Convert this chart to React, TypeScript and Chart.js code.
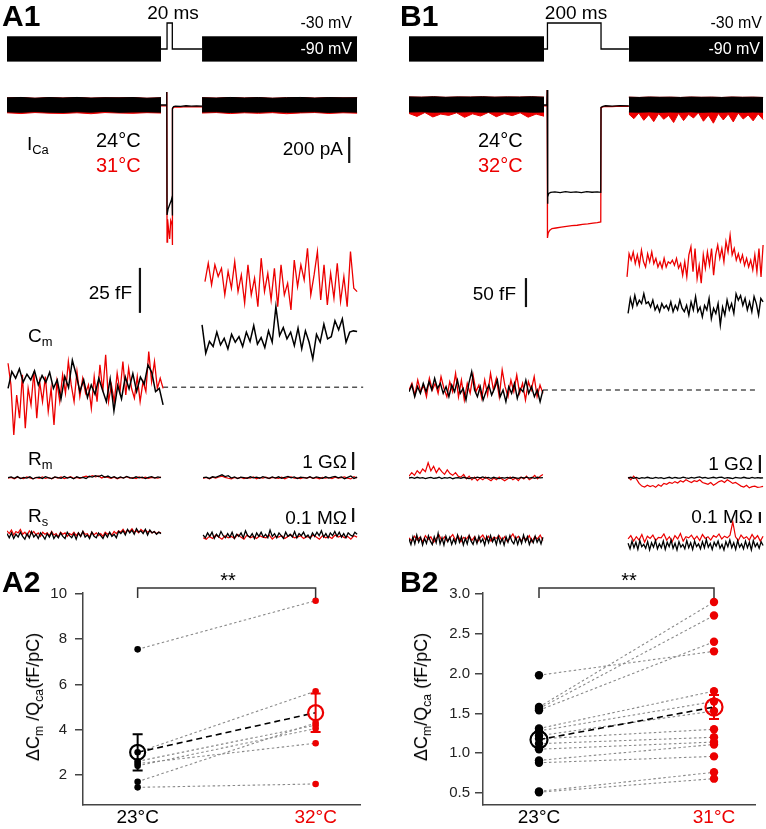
import React, { useEffect, useRef } from "react";
import { Chart, registerables } from "chart.js";

Chart.register(...registerables);

const RED = "rgb(236,0,0)";
const INK = "#111";
const FONT = "'Liberation Sans', Arial, Helvetica, sans-serif";
Chart.defaults.font.family = FONT;
Chart.defaults.color = "#000";

// ================= A1 / B1 : command protocol (ms, mV) =================
const holdMV = -90;
const stepMV = -30;
const sineHalfMV = 28; // apparent half-height of the sine-wave blocks
const a1SineStart = [0, 741];
const a1SineEnd = [585, 1330];
const a1CmdT = [585, 608, 608, 628, 628, 741];
const a1CmdV = [holdMV, holdMV, stepMV, stepMV, holdMV, holdMV];
const b1SineStart = [0, 829];
const b1SineEnd = [509, 1335];
const b1CmdT = [509, 522, 522, 724, 724, 829];
const b1CmdV = [holdMV, holdMV, stepMV, stepMV, holdMV, holdMV];

// ================= I_Ca (pA) =================
const a1IcaLeftHiK = [55, 58, 52, 57, 54, 58, 53, 56, 55, 57, 52, 56];
const a1IcaLeftLoK = [-53, -56, -51, -55, -57, -52, -55, -50, -56, -54, -53, -55];
const a1IcaLeftLoR = [-60, -66, -58, -63, -65, -60, -67, -58, -62, -64, -59, -62];
const a1IcaRightHiK = [56, 53, 58, 54, 57, 52, 56, 58, 53, 57, 55, 56];
const a1IcaRightLoK = [-54, -52, -57, -53, -55, -51, -56, -54, -52, -57, -53, -55];
const a1IcaRightLoR = [-62, -58, -66, -60, -64, -59, -67, -61, -58, -65, -60, -63];
const a1IcaMidTK = [585, 606, 607, 608, 612, 618, 624, 627, 628, 629, 633, 640, 660, 680, 700, 720, 741];
const a1IcaMidVK = [0, 0, 100, -846, -800, -765, -735, -708, -850, -25, -12, -8, -10, -6, -9, -7, -8];
const a1IcaMidTR = [585, 606, 607, 608, 610, 614, 618, 622, 627, 628, 629, 633, 640, 660, 680, 700, 720, 741];
const a1IcaMidVR = [-6, -6, 100, -1054, -880, -960, -1030, -890, -920, -1077, -30, -18, -14, -16, -12, -15, -13, -14];

const b1IcaLeftHiK = [62, 60, 63, 59, 62, 61, 63, 60, 62, 61, 63, 60];
const b1IcaLeftLoK = [-54, -52, -55, -53, -54, -52, -55, -53, -54, -52, -55, -54];
const b1IcaLeftLoR = [-65, -88, -58, -92, -70, -80, -60, -95, -68, -85, -57, -90, -66, -82, -60, -94, -70, -86];
const b1IcaRightHiK = [60, 58, 61, 59, 60, 58, 61, 59, 60, 58, 61, 59, 60, 58];
const b1IcaRightLoK = [-54, -55, -53, -56, -54, -55, -53, -56, -54, -55, -53, -56, -54, -55];
const b1IcaRightLoR = [-70, -105, -62, -118, -75, -128, -66, -110, -80, -135, -64, -120, -72, -100, -60, -125, -78, -140, -65, -115, -70, -130, -62, -108, -76, -122, -68, -112];
const b1IcaMidTK = [509, 520, 521, 522, 524, 527, 534, 550, 570, 590, 610, 630, 650, 670, 690, 710, 723, 724, 731, 741, 766, 796, 829];
const b1IcaMidVK = [0, 0, 115, -760, -708, -680, -672, -668, -674, -666, -672, -668, -674, -667, -671, -668, -672, -18, -10, -6, -8, -5, -6];
const b1IcaMidTR = [509, 520, 521, 522, 525, 530, 539, 554, 574, 594, 614, 634, 654, 674, 694, 710, 723, 724, 731, 741, 766, 796, 829];
const b1IcaMidVR = [-6, -6, 115, -1023, -984, -965, -950, -946, -940, -934, -928, -925, -918, -914, -908, -905, -900, -20, -14, -10, -12, -9, -11];

// ================= Cm (fF, relative to pre-pulse baseline) =================
const cmA1LeftK = [-0.6, 8.7, 5.0, 10.2, 2.8, 7.2, 4.1, 9.1, 1.3, 6.5, 2.8, 8.3, -0.6, 4.1, -6.5, 5.9, -0.2, 15.0, 7.2, -2.4, 4.1, -5.7, 1.3, -3.9, 5.0, -1.7, -8.0, 4.6, -13.1, 0.9, -6.5, 5.7, -0.9, 7.6, -2.4, 5.7, 1.7, 12.4, 8.3, -2.4, -0.6, -9.8];
const cmA1LeftR = [13.3, 1.3, -26.5, -4.3, -17.2, 6.9, -22.8, -0.6, -9.8, 8.7, -17.2, 3.1, -8.0, 5.9, -13.5, -0.6, -20.9, 3.1, -8.0, 6.9, -3.3, 14.3, 1.3, -8.0, 8.7, -5.2, 5.0, -3.3, 1.3, -11.7, 5.9, -8.0, 12.4, -2.4, 18.0, -8.0, 1.3, -8.0, 7.8, -2.4, 14.3, -4.3, 10.6, -0.6, -6.1, 5.9, -8.0, 3.1, -2.4, 19.8, 3.1, 14.3, -0.6, 5.0, -0.6];
const cmA1RightK = [34.6, 18.9, 25.4, 22.6, 30.6, 23.5, 27.2, 21.3, 29.4, 25.0, 28.1, 22.6, 30.6, 25.4, 34.3, 23.9, 27.6, 22.0, 31.3, 25.0, 44.8, 28.7, 33.1, 26.9, 30.6, 23.1, 32.8, 21.3, 31.3, 25.0, 15.7, 29.4, 25.0, 35.0, 26.9, 28.1, 36.9, 31.9, 38.0, 25.0, 30.6, 31.3, 30.9];
const cmA1RightR = [58.7, 68.9, 56.9, 68.0, 61.5, 66.1, 51.3, 64.3, 55.0, 69.8, 53.1, 62.4, 46.7, 68.0, 51.3, 60.6, 44.8, 71.7, 53.1, 63.3, 48.5, 66.1, 44.8, 68.0, 51.3, 57.8, 43.0, 70.7, 55.9, 68.0, 59.6, 77.2, 51.3, 62.4, 75.4, 48.5, 68.0, 45.7, 63.3, 49.4, 68.9, 47.6, 61.5, 44.8, 75.4, 55.0, 53.1];

const cmB1LeftK = [-2.9, 8.6, -11.6, 5.7, -5.8, 11.5, -2.9, 14.3, 0, 20.1, 2.8, 11.5, -5.8, 5.7, -11.6, 8.6, -2.9, 17.2, -5.8, 2.8, -17.3, 11.5, 31.6, 0, -11.6, 5.7, -17.3, -2.9, 8.6, -8.7, 2.8, 17.2, -11.6, 0, -20.2, 5.7, -5.8, 11.5, -14.4, 2.8, -2.9, 17.2, -5.8, 5.7, -11.6, 0, -20.2, 0];
const cmB1LeftR = [0, 11.5, -8.7, 17.2, -2.9, 8.6, -11.6, 20.1, 0, 11.5, -5.8, 23, 2.8, -11.6, 14.3, -2.9, 28.7, -11.6, 17.2, -17.3, 11.5, -5.8, 25.8, -2.9, 8.6, -14.4, 17.2, -8.7, 28.7, 0, 20.1, -11.6, 34.5, 5.7, -11.6, 17.2, -2.9, 25.8, -5.8, 11.5, -17.3, 14.3, 0, 23, -11.6, 8.6, -5.8];
const cmB1RightR = [195, 235, 224, 238, 218, 233, 215, 241, 221, 212, 235, 221, 238, 218, 227, 212, 221, 210, 227, 212, 221, 218, 224, 215, 227, 210, 218, 198, 221, 195, 233, 247, 204, 244, 192, 215, 184, 233, 210, 238, 215, 244, 198, 233, 250, 227, 244, 221, 256, 238, 267, 233, 244, 224, 235, 221, 233, 215, 227, 212, 224, 207, 233, 204, 244, 195, 250];
const cmB1RightK = [132, 158, 143, 163, 146, 155, 149, 166, 149, 152, 143, 155, 138, 146, 135, 149, 141, 146, 138, 152, 135, 146, 138, 155, 141, 135, 146, 129, 152, 138, 161, 135, 143, 126, 146, 138, 158, 123, 141, 132, 149, 112, 143, 129, 155, 138, 149, 132, 166, 155, 163, 146, 158, 138, 152, 135, 161, 149, 129, 158, 152];

// ================= Rm (MΩ, relative) =================
const rmA1LeftK = [0, 40, -30, 60, -50, 20, -20, 50, -60, 10, 30, -40, 60, -10, -50, 40, 0, -30, 70, -20, 30, -60, 50, -10, 20, -40, 80, 30, 110, 60, 140, 20, 90, -10, 60, -30, 40, -20, 70, 0, -40, 50, -10, 30, -50, 20, 60, -20, 40, 10];
const rmA1LeftR = [-30, 20, -60, 30, -20, -50, 40, -10, -70, 20, -30, 50, -40, 10, -60, 30, -20, 40, -50, 0, 60, -30, 20, -40, 30, 90, 40, 120, 50, 100, -20, 60, 10, -40, 30, -60, 20, -10, 50, -30, 10, -50, 40, -20, 30, -40, 20, 0, -30, 30];
const rmA1RightK = [0, 30, -40, 50, 20, 90, 160, 60, 110, -20, 40, -50, 30, 10, -40, 50, -10, 30, -30, 60, 0, -40, 40, -20, 50, -30, 20, 70, -10, 40, -50, 30, 0, -20, 60, -30, 40, 10, -40, 50, -20, 30, 70, -10, 40, -60, 20, 100, -40, 30];
const rmA1RightR = [-40, 10, -60, 30, -20, 40, 80, 20, -30, -70, 10, -40, 20, -50, 0, -30, 40, -60, 10, -20, 30, -50, 20, -10, -40, 30, -60, 10, 40, -30, -10, -50, 20, -20, 30, -40, 0, -60, 20, -30, 10, -50, 30, -20, 0, 40, -30, -70, 60, -20];
const rmB1LeftK = [0, 30, -20, 40, -10, 20, -30, 10, 30, -20, 0, 40, -30, 20, -10, 30, -40, 10, 20, -20, 40, 0, -30, 20, -10, 50, 10, 60, -10, 30, -20, 40, 0, -30, 20, -10, 30, -20, 40, 10, -20, 30, 0, 50, -10, 30, -20, 40, 10, 20];
const rmB1LeftR = [100, 300, 150, 400, 250, 500, 350, 850, 400, 650, 300, 550, 350, 200, 450, 250, 150, 300, 100, 50, 200, -50, 100, -100, 50, -150, 0, -100, 50, -50, -150, 0, -100, 50, -50, -150, -50, 50, -100, 0, -150, 50, -50, 100, -100, 0, 150, -50, 100, 200];
const rmB1RightK = [0, 40, -20, 30, -30, 20, -10, 40, 0, -20, 30, -10, 20, -30, 10, 40, -20, 30, 0, -10, 50, 10, -20, 30, -10, 40, 60, 0, 30, -20, 10, 40, -10, 30, 50, -20, 20, 0, -30, 30, 10, -10, 40, 0, -20, 30, -10, 20, 0, 10];
const rmB1RightR = [50, -100, 100, -50, -300, -450, -500, -400, -480, -420, -520, -380, -460, -300, -350, -250, -300, -200, -280, -150, -220, -100, -180, -250, -150, -200, -100, -250, -300, -350, -250, -400, -300, -200, -150, -250, -100, -200, -300, -250, -350, -450, -500, -400, -550, -480, -450, -520, -500, -470];

// ================= Rs (kΩ, relative) =================
const rsA1LeftK = [10, -20, 15, -25, 5, -15, 20, -10, -30, 10, -20, 25, -15, 5, -25, 15, -5, -30, 10, -15, 20, -25, 0, -20, 15, -10, -25, 20, -5, -20, 10, -30, 15, -10, 25, -15, 0, -25, 20, -10, -20, 15, -5, -25, 10, -15, 20, -10, 5, -20, 25, 10, 30, 0, 40, 15, 35, 5, 45, 20, 30, 10, 40, 0, 35, 15, 25, 5, 20, 10];
const rsA1LeftR = [30, 10, 35, 0, 25, 15, 40, 5, 20, -5, 30, 10, 25, 0, 15, -10, 20, 5, 15, -5, 25, 0, 10, -15, 20, 5, 15, -10, 10, 0, 20, -5, 15, -10, 25, 5, 10, -15, 20, 0, 15, -5, 10, -10, 20, 5, 15, 0, 25, 10, 30, 20, 40, 15, 35, 25, 45, 20, 30, 15, 40, 25, 35, 20, 30, 15, 25, 10, 20, 15];
const rsA1RightK = [0, -20, 15, -10, 20, -25, 5, -15, 25, -5, -20, 10, -15, 20, -25, 5, -10, 15, -20, 30, -5, -15, 10, -25, 15, -10, 20, -15, 5, -20, 35, -10, 10, -20, 15, -5, -25, 20, -10, 5, -15, 25, -20, 10, -5, 20, -15, 0, -25, 15, -10, 20, -5, 30, -15, 10, -20, 15, -5, 25, -10, 20, -15, 10, -20, 15, 0, -10, 20, 5];
const rsA1RightR = [-20, -30, -10, -25, 0, -15, -30, -5, -20, -10, -25, 5, -15, -30, 0, -20, -10, -25, -5, -15, -20, 0, -30, -10, -15, -5, -25, -10, 0, -20, -15, -5, -25, -10, -20, 0, -15, -30, -5, -20, -10, -25, 0, -15, -5, -20, -10, -30, -5, -15];
const rsB1LeftK = [10, -40, 30, -35, 45, -20, 25, -45, 15, -30, 40, -10, -40, 30, -25, 60, -35, 20, -45, 35, -15, 25, -40, 10, -30, 45, -20, 30, -45, 15, -35, 40, -10, -40, 25, -30, 35, -20, 10, -45, 30, -25, 40, -15, 20, -40, 35, -30, 15, -45, 30, -20, 40, -10, -35, 25, -40, 20, -30, 45, -15, 30, -40, 10, -25, 35, -20, 15, -35, 25];
const rsB1LeftR = [20, -10, 35, 0, 25, -15, 40, 5, 30, -20, 15, 45, -5, 30, -10, 20, 50, 0, 35, -15, 25, 10, 40, -5, 30, -20, 20, 45, 0, 35, -10, 25, 15, 40, -5, 30, -15, 20, 55, 5, 35, -10, 25, 0, 40, -15, 30, 10, 45, -5];
const rsB1RightK = [-30, -80, -10, -70, -20, -85, -5, -60, -40, -75, -15, -90, -25, -65, -5, -80, -35, -70, -10, -85, -20, -60, 0, -75, -30, -90, -15, -65, -40, -80, -5, -70, -25, -85, -10, -60, -35, -80, -15, -70, 5, -65, -30, -85, -20, -55, -10, -75, -40, -90, -15, -60, 0, -70, -25, -85, -5, -65, -35, -80, -10, -70, -20, -90, -5, -60, -30, -75, -15, -50];
const rsB1RightR = [10, 40, -10, 30, 0, 50, -20, 35, 15, 45, -5, 25, 20, 55, 0, 30, -15, 40, 10, 60, -10, 30, 20, 45, 5, 35, -5, 50, 15, 30, 0, 40, 25, 55, 10, 35, 20, 45, 165, 30, -5, 45, 15, 30, 0, 50, 10, 40, -10, 35];

// scale bars (physical size)
const barIcaPA = 200;
const barCmA1fF = 25;
const barCmB1fF = 50;
const barRmMOhm = 1000;
const barRsKOhm = 100;

// ================= A2 / B2 : ΔCm/QCa (fF/pC) =================
const a2Cats = ["23°C", "32°C"];
const a2Cold = [7.55, 1.45, 1.7, 2.4, 2.5, 2.6, 3.0];
const a2Warm = [9.7, 1.6, 4.3, 4.05, 3.4, 4.2, 5.7];
const a2Mean = [3.0, 4.75];
const a2Sem = [0.8, 0.85];
const a2Ticks = [2, 4, 6, 8, 10];

const b2Cats = ["23°C", "31°C"];
const b2Cold = [1.98, 1.58, 1.56, 1.54, 1.31, 1.28, 1.22, 1.18, 1.12, 1.05, 0.91, 0.88, 0.52, 0.51];
const b2Warm = [2.28, 2.9, 2.73, 2.4, 1.78, 1.65, 1.53, 1.3, 1.2, 1.14, 1.11, 0.96, 0.76, 0.68];
const b2Mean = [1.17, 1.58];
const b2Sem = [0.09, 0.15];
const b2Ticks = [0.5, 1.0, 1.5, 2.0, 2.5, 3.0];

// ================= helpers =================
const series = (vals: number[], t0: number, t1: number) =>
  vals.map((v, i) => ({ x: t0 + ((t1 - t0) * i) / Math.max(1, vals.length - 1), y: v }));
const zip = (ts: number[], vs: number[]) => ts.map((t, i) => ({ x: t, y: vs[i] }));
const ln = (data: any[], color: string, width = 1.2, extra: any = {}) => ({
  data,
  borderColor: color,
  backgroundColor: color,
  borderWidth: width,
  pointRadius: 0,
  fill: false,
  tension: 0,
  ...extra,
});
const band = (hi: number[], lo: number[], t0: number, t1: number, color: string) => [
  ln(series(hi, t0, t1), color, 1, { fill: "+1" }),
  ln(series(lo, t0, t1), color, 1),
];
const bar = (t: number, y0: number, len: number) => ln([{ x: t, y: y0 }, { x: t, y: y0 + len }], INK, 2.2);

function TraceChart(props: any) {
  const ref = useRef<HTMLCanvasElement>(null);
  const { left, top, width, height, xMax, yMin, yMax, build } = props;
  useEffect(() => {
    const chart = new Chart(ref.current as HTMLCanvasElement, {
      type: "line",
      data: { datasets: build() },
      options: {
        animation: false,
        responsive: false,
        devicePixelRatio: 1,
        events: [],
        layout: { padding: 0 },
        plugins: { legend: { display: false }, tooltip: { enabled: false } },
        scales: {
          x: { type: "linear", display: false, min: 0, max: xMax },
          y: { type: "linear", display: false, min: yMin, max: yMax },
        },
      } as any,
    });
    return () => chart.destroy();
  }, []);
  return (
    <canvas
      ref={ref}
      width={width}
      height={height}
      style={{ position: "absolute", left, top, width, height }}
    />
  );
}

function PairChart(props: any) {
  const ref = useRef<HTMLCanvasElement>(null);
  const { left, top, width, height } = props;
  useEffect(() => {
    const { cold, warm, mean, sem, cats, ticks, digits, xMin, xMax, yMin, yMax, axisW, tickPad, padTop, padRight, dotR, meanR } = props;
    const pairs = cold.map((a: number, i: number) => ({
      data: [{ x: 0, y: a }, { x: 1, y: warm[i] }],
      showLine: true,
      borderColor: "#8a8a8a",
      borderWidth: 1.1,
      borderDash: [2.5, 2.5],
      pointRadius: 0,
      order: 5,
    }));
    const datasets: any[] = [
      ...pairs,
      { data: cold.map((v: number) => ({ x: 0, y: v })), pointRadius: dotR, pointBackgroundColor: "#000", pointBorderWidth: 0, showLine: false, order: 3 },
      { data: warm.map((v: number) => ({ x: 1, y: v })), pointRadius: dotR, pointBackgroundColor: RED, pointBorderWidth: 0, showLine: false, order: 3 },
      { data: [{ x: 0, y: mean[0] }, { x: 1, y: mean[1] }], showLine: true, borderColor: "#000", borderWidth: 1.6, borderDash: [6, 4], pointRadius: 0, order: 2 },
      { data: [{ x: 0, y: mean[0] }, { x: 1, y: mean[1] }], showLine: false, pointRadius: meanR, pointBorderWidth: 2.2, pointBorderColor: ["#000", RED], pointBackgroundColor: "rgba(0,0,0,0)", order: 1 },
    ];
    const errPlugin = {
      id: "errbars",
      afterDatasetsDraw(chart: any) {
        const { ctx, chartArea } = chart;
        const x = chart.scales.x;
        const y = chart.scales.y;
        ctx.save();
        [0, 1].forEach((i) => {
          const px = x.getPixelForValue(i);
          const t = y.getPixelForValue(mean[i] + sem[i]);
          const b = y.getPixelForValue(mean[i] - sem[i]);
          ctx.strokeStyle = i ? RED : "#000";
          ctx.lineWidth = 2;
          ctx.beginPath();
          ctx.moveTo(px, t);
          ctx.lineTo(px, b);
          ctx.moveTo(px - 5, t);
          ctx.lineTo(px + 5, t);
          ctx.moveTo(px - 5, b);
          ctx.lineTo(px + 5, b);
          ctx.stroke();
        });
        const x0 = x.getPixelForValue(0);
        const x1 = x.getPixelForValue(1);
        const yb = chartArea.top - 5;
        ctx.strokeStyle = "#333";
        ctx.lineWidth = 1.5;
        ctx.beginPath();
        ctx.moveTo(x0, yb + 10);
        ctx.lineTo(x0, yb);
        ctx.lineTo(x1, yb);
        ctx.lineTo(x1, yb + 10);
        ctx.stroke();
        ctx.restore();
      },
    };
    const chart = new Chart(ref.current as HTMLCanvasElement, {
      type: "scatter",
      data: { datasets },
      options: {
        animation: false,
        responsive: false,
        devicePixelRatio: 1,
        events: [],
        layout: { padding: { top: padTop, right: padRight, left: 0, bottom: 0 } },
        plugins: { legend: { display: false }, tooltip: { enabled: false } },
        scales: {
          x: {
            type: "linear",
            min: xMin,
            max: xMax,
            afterBuildTicks: (s: any) => {
              s.ticks = [{ value: 0 }, { value: 1 }];
            },
            afterFit: (s: any) => {
              s.height = 24;
            },
            grid: { display: false, drawTicks: false, tickLength: 0 },
            border: { display: true, color: "#444", width: 1.5 },
            ticks: {
              autoSkip: false,
              maxRotation: 0,
              padding: 1,
              font: { size: 19, family: FONT },
              color: (c: any) => (c.index === 1 ? RED : "#000"),
              callback: (_v: any, i: number) => cats[i],
            },
          },
          y: {
            type: "linear",
            min: yMin,
            max: yMax,
            afterBuildTicks: (s: any) => {
              s.ticks = ticks.map((v: number) => ({ value: v }));
            },
            afterFit: (s: any) => {
              s.width = axisW;
            },
            grid: { display: true, drawOnChartArea: false, drawTicks: true, tickLength: 8, color: "#444", lineWidth: 1.5 },
            border: { display: true, color: "#444", width: 1.5 },
            ticks: {
              padding: tickPad,
              font: { size: 15, family: FONT },
              color: "#222",
              callback: (v: any) => Number(v).toFixed(digits),
            },
          },
        },
      } as any,
      plugins: [errPlugin],
    });
    return () => chart.destroy();
  }, []);
  return (
    <canvas
      ref={ref}
      width={width}
      height={height}
      style={{ position: "absolute", left, top, width, height }}
    />
  );
}

function Txt(props: any) {
  const { x, y, align = "left", size = 19, color = "#000", bold = false, children } = props;
  const style: any = {
    position: "absolute",
    top: y,
    fontSize: size,
    lineHeight: 1,
    color,
    fontWeight: bold ? 700 : 400,
    whiteSpace: "nowrap",
    fontFamily: FONT,
  };
  if (align === "left") {
    style.left = x;
    style.transform = "translateY(-50%)";
  } else if (align === "right") {
    style.right = 766 - x;
    style.transform = "translateY(-50%)";
  } else {
    style.left = x;
    style.transform = "translate(-50%,-50%)";
  }
  return <div style={style}>{children}</div>;
}

const Sub = ({ children }: any) => (
  <span style={{ fontSize: "0.68em", position: "relative", top: "0.32em" }}>{children}</span>
);

function YTitle({ x, y, children }: any) {
  return (
    <div
      style={{
        position: "absolute",
        left: x,
        top: y,
        transform: "translate(-50%,-50%) rotate(-90deg)",
        fontSize: 18,
        lineHeight: 1,
        whiteSpace: "nowrap",
        fontFamily: FONT,
        color: "#000",
      }}
    >
      {children}
    </div>
  );
}

const sineHi = [holdMV + sineHalfMV, holdMV + sineHalfMV];
const sineLo = [holdMV - sineHalfMV, holdMV - sineHalfMV];

export default function App() {
  return (
    <div
      style={{
        position: "absolute",
        left: 0,
        top: 0,
        width: 766,
        height: 829,
        background: "#fff",
        overflow: "hidden",
        fontFamily: FONT,
      }}
    >
      {/* ---------- A1 ---------- */}
      <TraceChart
        left={7} top={15} width={358} height={55} xMax={1360} yMin={-138.5} yMax={-11.5}
        build={() => [
          ...band(sineHi, sineLo, a1SineStart[0], a1SineEnd[0], "#000"),
          ...band(sineHi, sineLo, a1SineStart[1], a1SineEnd[1], "#000"),
          ln(zip(a1CmdT, a1CmdV), "#000", 1.3),
        ]}
      />
      <TraceChart
        left={7} top={85} width={358} height={170} xMax={1360} yMin={-1153.8} yMax={153.8}
        build={() => [
          ...band(a1IcaLeftHiK, a1IcaLeftLoK, 0, 585, "#000"),
          ...band(a1IcaRightHiK, a1IcaRightLoK, 741, 1330, "#000"),
          ln(zip(a1IcaMidTK, a1IcaMidVK), "#000", 1.3),
          ...band(a1IcaLeftHiK, a1IcaLeftLoR, 0, 585, RED),
          ...band(a1IcaRightHiK, a1IcaRightLoR, 741, 1330, RED),
          ln(zip(a1IcaMidTR, a1IcaMidVR), RED, 1.3),
          bar(1300, -446, barIcaPA),
        ]}
      />
      <TraceChart
        left={7} top={240} width={358} height={205} xMax={1360} yMin={-32.1} yMax={81.8}
        build={() => [
          ln(series(cmA1LeftK, 4, 593), "#000", 1.5),
          ln(series(cmA1RightK, 741, 1330), "#000", 1.5),
          ln(series(cmA1LeftR, 4, 593), RED, 1.3),
          ln(series(cmA1RightR, 752, 1330), RED, 1.3),
          ln([{ x: 593, y: 0 }, { x: 1353, y: 0 }], "#555", 1.4, { borderDash: [5, 4] }),
          bar(505, 41.3, barCmA1fF),
        ]}
      />
      <TraceChart
        left={7} top={445} width={358} height={50} xMax={1360} yMin={-962} yMax={1818}
        build={() => [
          ln(series(rmA1LeftK, 4, 585), "#000", 1.3),
          ln(series(rmA1RightK, 745, 1330), "#000", 1.3),
          ln(series(rmA1LeftR, 4, 585), RED, 1.2),
          ln(series(rmA1RightR, 745, 1330), RED, 1.2),
          bar(1315, 429, barRmMOhm),
        ]}
      />
      <TraceChart
        left={7} top={500} width={358} height={55} xMax={1360} yMin={-143} yMax={250}
        build={() => [
          ln(series(rsA1LeftK, 0, 585), "#000", 1.3),
          ln(series(rsA1RightK, 745, 1330), "#000", 1.3),
          ln(series(rsA1LeftR, 0, 585), RED, 1.2),
          ln(series(rsA1RightR, 745, 1330), RED, 1.2),
          bar(1315, 93, barRsKOhm),
        ]}
      />

      {/* ---------- B1 ---------- */}
      <TraceChart
        left={409} top={15} width={357} height={55} xMax={1346} yMin={-138.5} yMax={-11.5}
        build={() => [
          ...band(sineHi, sineLo, b1SineStart[0], b1SineEnd[0], "#000"),
          ...band(sineHi, sineLo, b1SineStart[1], b1SineEnd[1], "#000"),
          ln(zip(b1CmdT, b1CmdV), "#000", 1.3),
        ]}
      />
      <TraceChart
        left={409} top={85} width={357} height={170} xMax={1346} yMin={-1153.8} yMax={153.8}
        build={() => [
          ...band(b1IcaLeftHiK, b1IcaLeftLoK, 0, 509, "#000"),
          ...band(b1IcaRightHiK, b1IcaRightLoK, 829, 1335, "#000"),
          ln(zip(b1IcaMidTK, b1IcaMidVK), "#000", 1.3),
          ...band(b1IcaLeftHiK, b1IcaLeftLoR, 0, 509, RED),
          ...band(b1IcaRightHiK, b1IcaRightLoR, 829, 1335, RED),
          ln(zip(b1IcaMidTR, b1IcaMidVR), RED, 1.3),
        ]}
      />
      <TraceChart
        left={409} top={230} width={357} height={185} xMax={1346} yMin={-43.1} yMax={275.9}
        build={() => [
          ln(series(cmB1LeftK, 0, 505), "#000", 1.4),
          ln(series(cmB1RightK, 826, 1335), "#000", 1.4),
          ln(series(cmB1LeftR, 0, 505), RED, 1.3),
          ln(series(cmB1RightR, 822, 1335), RED, 1.3),
          ln([{ x: 505, y: 0 }, { x: 1316, y: 0 }], "#555", 1.4, { borderDash: [5, 4] }),
          bar(441, 143, barCmB1fF),
        ]}
      />
      <TraceChart
        left={409} top={445} width={357} height={50} xMax={1346} yMin={-945} yMax={1835}
        build={() => [
          ln(series(rmB1LeftK, 0, 505), "#000", 1.3),
          ln(series(rmB1RightK, 826, 1335), "#000", 1.3),
          ln(series(rmB1LeftR, 0, 505), RED, 1.2),
          ln(series(rmB1RightR, 826, 1335), RED, 1.2),
          bar(1323, 279, barRmMOhm),
        ]}
      />
      <TraceChart
        left={409} top={500} width={357} height={55} xMax={1346} yMin={-136} yMax={364}
        build={() => [
          ln(series(rsB1LeftK, 0, 505), "#000", 1.3),
          ln(series(rsB1RightK, 826, 1335), "#000", 1.3),
          ln(series(rsB1LeftR, 0, 505), RED, 1.2),
          ln(series(rsB1RightR, 826, 1335), RED, 1.2),
          bar(1323, 155, barRsKOhm),
        ]}
      />

      {/* ---------- A2 / B2 ---------- */}
      <PairChart
        left={0} top={575} width={370} height={254}
        cold={a2Cold} warm={a2Warm} mean={a2Mean} sem={a2Sem} cats={a2Cats}
        ticks={a2Ticks} digits={0} xMin={-0.307} xMax={1.251} yMin={0.67} yMax={10.04}
        axisW={83} tickPad={8} padTop={18} padRight={8} dotR={3.3} meanR={7.5}
      />
      <PairChart
        left={400} top={575} width={366} height={254}
        cold={b2Cold} warm={b2Warm} mean={b2Mean} sem={b2Sem} cats={b2Cats}
        ticks={b2Ticks} digits={1} xMin={-0.32} xMax={1.236} yMin={0.349} yMax={3.013}
        axisW={83} tickPad={5} padTop={18} padRight={6} dotR={4.2} meanR={8.5}
      />

      {/* ---------- text ---------- */}
      <Txt x={2} y={16} size={30} bold>A1</Txt>
      <Txt x={173} y={12} align="center">20 ms</Txt>
      <Txt x={352} y={23} align="right" size={16}>-30 mV</Txt>
      <Txt x={352} y={49} align="right" size={16} color="#fff">-90 mV</Txt>
      <Txt x={27} y={143}>I<Sub>Ca</Sub></Txt>
      <Txt x={96} y={140} size={20}>24°C</Txt>
      <Txt x={96} y={165} size={20} color={RED}>31°C</Txt>
      <Txt x={343} y={148} align="right">200 pA</Txt>
      <Txt x={132} y={292} align="right">25 fF</Txt>
      <Txt x={28} y={335}>C<Sub>m</Sub></Txt>
      <Txt x={28} y={458}>R<Sub>m</Sub></Txt>
      <Txt x={347} y={461} align="right">1 GΩ</Txt>
      <Txt x={28} y={515}>R<Sub>s</Sub></Txt>
      <Txt x={347} y={517} align="right">0.1 MΩ</Txt>

      <Txt x={400} y={16} size={30} bold>B1</Txt>
      <Txt x={576} y={12} align="center">200 ms</Txt>
      <Txt x={762} y={23} align="right" size={16}>-30 mV</Txt>
      <Txt x={760} y={49} align="right" size={16} color="#fff">-90 mV</Txt>
      <Txt x={478} y={140} size={20}>24°C</Txt>
      <Txt x={478} y={165} size={20} color={RED}>32°C</Txt>
      <Txt x={516} y={293} align="right">50 fF</Txt>
      <Txt x={753} y={463} align="right">1 GΩ</Txt>
      <Txt x={753} y={516} align="right">0.1 MΩ</Txt>

      <Txt x={2} y={582} size={30} bold>A2</Txt>
      <Txt x={228} y={580} align="center" size={20}>**</Txt>
      <YTitle x={33} y={697}>ΔC<Sub>m</Sub> /Q<Sub>ca</Sub>(fF/pC)</YTitle>
      <Txt x={400} y={582} size={30} bold>B2</Txt>
      <Txt x={629} y={580} align="center" size={20}>**</Txt>
      <YTitle x={421} y={697}>ΔC<Sub>m</Sub>/Q<Sub>ca</Sub> (fF/pC)</YTitle>
    </div>
  );
}
